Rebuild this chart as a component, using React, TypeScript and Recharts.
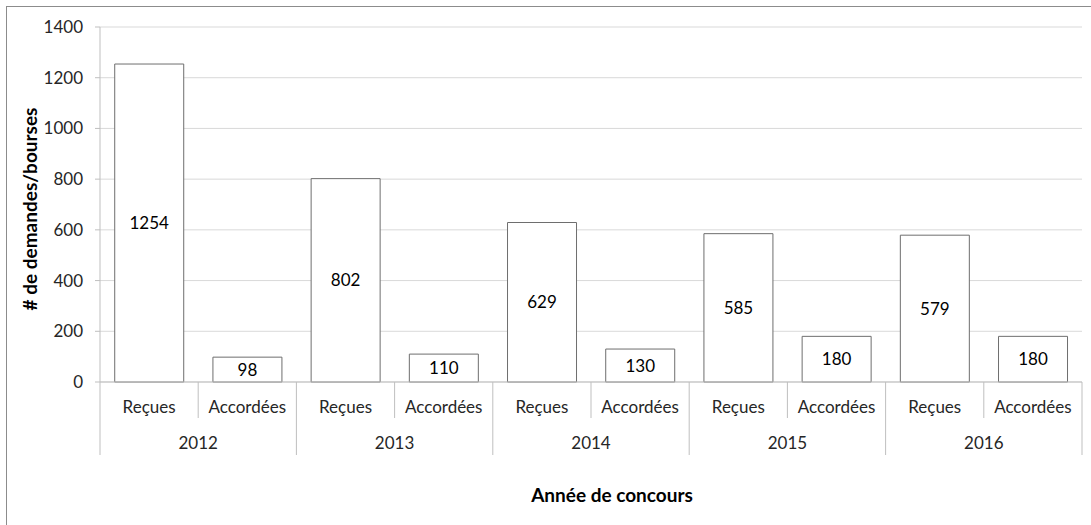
import { BarChart, Bar, XAxis, YAxis, CartesianGrid, LabelList, Label } from "recharts";

// one entry per bar, in drawing order
const years = ["2012", "2013", "2014", "2015", "2016"];
const kinds = ["Reçues", "Accordées"];
const recues = [1254, 802, 629, 585, 579];
const accordees = [98, 110, 130, 180, 180];
const yTicks = [0, 200, 400, 600, 800, 1000, 1200, 1400];

const data = years.flatMap((year, i) => [
  { key: `${year}-r`, kind: kinds[0], year, value: recues[i] },
  { key: `${year}-a`, kind: kinds[1], year, value: accordees[i] },
]);

const W = 1091;
const H = 525;
const margin = { top: 27, right: 9, bottom: 63, left: 40 };
const Y_AXIS_W = 60;
const X_AXIS_H = 80;
const plotLeft = margin.left + Y_AXIS_W;
const plotRight = W - margin.right;
const axisY = H - margin.bottom - X_AXIS_H;
const band = (plotRight - plotLeft) / data.length;

const FONT = "Lato, 'Open Sans', sans-serif";
const TEXT = "#262626";
const LINE = "#bfbfbf";

function CategoryTick(props: any) {
  const { x, payload } = props;
  const i = payload.index;
  const row = data[i];
  const left = x - band / 2;
  return (
    <g>
      <line
        x1={left}
        x2={left}
        y1={axisY}
        y2={i % 2 === 0 ? axisY + 73 : axisY + 36}
        stroke={LINE}
      />
      {i === data.length - 1 && (
        <line x1={x + band / 2} x2={x + band / 2} y1={axisY} y2={axisY + 73} stroke={LINE} />
      )}
      <text x={x} y={axisY + 31} textAnchor="middle" fill={TEXT} fontSize={17} fontFamily={FONT}>
        {row.kind}
      </text>
      {i % 2 === 0 && (
        <text x={x + band / 2} y={axisY + 67} textAnchor="middle" fill={TEXT} fontSize={17} fontFamily={FONT}>
          {row.year}
        </text>
      )}
    </g>
  );
}

export default function App() {
  return (
    <div style={{ position: "fixed", left: 0, top: 0, width: W, height: H, background: "#fff" }}>
      <div
        style={{
          position: "absolute",
          left: 6,
          top: 6,
          right: -10,
          bottom: -10,
          borderLeft: "1px solid #8c8c8c",
          borderTop: "1px solid #8c8c8c",
        }}
      />
      <BarChart width={W} height={H} data={data} margin={margin} barCategoryGap="15%">
        <CartesianGrid vertical={false} stroke="#d9d9d9" />
        <XAxis
          dataKey="key"
          height={X_AXIS_H}
          axisLine={{ stroke: LINE }}
          tickLine={false}
          interval={0}
          tick={<CategoryTick />}
        >
          <Label
            content={() => (
              <text x={612} y={502} textAnchor="middle" fill="#000" fontSize={19} fontWeight="bold" fontFamily={FONT}>
                Année de concours
              </text>
            )}
          />
        </XAxis>
        <YAxis
          width={Y_AXIS_W}
          domain={[0, 1400]}
          ticks={yTicks}
          interval={0}
          axisLine={{ stroke: LINE }}
          tickLine={{ stroke: LINE }}
          tickSize={5}
          tickMargin={12}
          tick={{ fill: TEXT, fontSize: 17, fontFamily: FONT }}
        >
          <Label
            content={() => (
              <text
                x={37}
                y={209}
                transform="rotate(-90 37 209)"
                textAnchor="middle"
                fill="#000"
                fontSize={19}
                fontWeight="bold"
                fontFamily={FONT}
              >
                # de demandes/bourses
              </text>
            )}
          />
        </YAxis>
        <Bar dataKey="value" fill="#fff" stroke="#6e6e6e" strokeWidth={1} isAnimationActive={false}>
          <LabelList dataKey="value" position="center" fill="#000" fontSize={17} fontFamily={FONT} />
        </Bar>
      </BarChart>
    </div>
  );
}
